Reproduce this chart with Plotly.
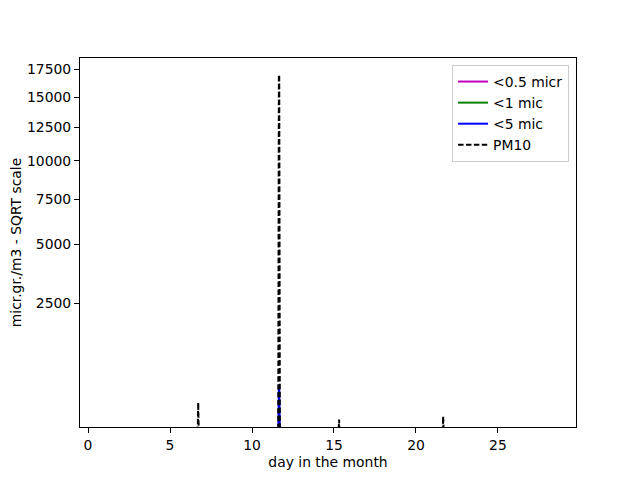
import numpy as np
import plotly.graph_objects as go

# sample days (fractional day in the month)
days = [0.9, 6.66, 6.70, 6.72, 6.74, 6.77, 6.80, 11.60, 11.64, 11.66, 11.70,
        15.28, 15.31, 15.34, 21.63, 21.66, 21.69, 28.4]
# values in micrograms / m3
pm05 = [5, 5, 8, 10, 8, 5, 5, 5, 30, 30, 5, 5, 6, 5, 5, 6, 5, 5]
pm1 = [8, 8, 12, 15, 12, 8, 8, 8, 40, 40, 8, 8, 9, 8, 8, 9, 8, 8]
pm5 = [12, 12, 20, 30, 20, 12, 12, 12, 428, 428, 12, 12, 14, 12, 12, 16, 12, 12]
pm10 = [20, 20, 60, 226, 60, 20, 20, 20, 16970, 16970, 20, 20, 81, 20, 20, 103, 20, 20]

ytick_vals = [2500, 5000, 7500, 10000, 12500, 15000, 17500]
xtick_vals = [0, 5, 10, 15, 20, 25]

def sq(v):
    return np.sqrt(np.asarray(v, dtype=float))

FS = 13.9

fig = go.Figure()
fig.add_trace(go.Scatter(x=days, y=sq(pm05), mode="lines", name="<0.5 micr",
                         line=dict(color="#bf00bf", width=2)))
fig.add_trace(go.Scatter(x=days, y=sq(pm1), mode="lines", name="<1 mic",
                         line=dict(color="#008000", width=2)))
fig.add_trace(go.Scatter(x=days, y=sq(pm5), mode="lines", name="<5 mic",
                         line=dict(color="#0000ff", width=2)))
fig.add_trace(go.Scatter(x=days, y=sq(pm10), mode="lines", name="PM10",
                         line=dict(color="black", width=2, dash="5.5px,2.4px")))

fig.update_layout(
    width=632, height=472,
    margin=dict(l=72, r=64, t=50, b=53, autoexpand=False),
    paper_bgcolor="white", plot_bgcolor="white",
    font=dict(family="DejaVu Sans", size=FS, color="black"),
    showlegend=True,
    legend=dict(x=0.986, y=0.981, xanchor="right", yanchor="top",
                bordercolor="#cccccc", borderwidth=1, bgcolor="rgba(255,255,255,0.8)",
                font=dict(size=FS), tracegroupgap=0, itemwidth=30),
)
fig.update_xaxes(range=[-0.49, 29.76], tickvals=xtick_vals,
                 ticktext=[str(v) for v in xtick_vals],
                 tickfont=dict(size=FS),
                 showline=True, linecolor="black", linewidth=1, mirror=True,
                 ticks="outside", ticklen=5, tickcolor="black", showgrid=False,
                 zeroline=False,
                 title=dict(text="day in the month", standoff=5, font=dict(size=FS)))
fig.update_yaxes(range=[6.4, 136.2], tickvals=sq(ytick_vals),
                 ticktext=[str(v) for v in ytick_vals],
                 tickfont=dict(size=FS),
                 showline=True, linecolor="black", linewidth=1, mirror=True,
                 ticks="outside", ticklen=5, tickcolor="black", showgrid=False,
                 zeroline=False,
                 title=dict(text="micr.gr./m3 - SQRT scale", standoff=9, font=dict(size=FS)))

fig.write_html("out.html")
